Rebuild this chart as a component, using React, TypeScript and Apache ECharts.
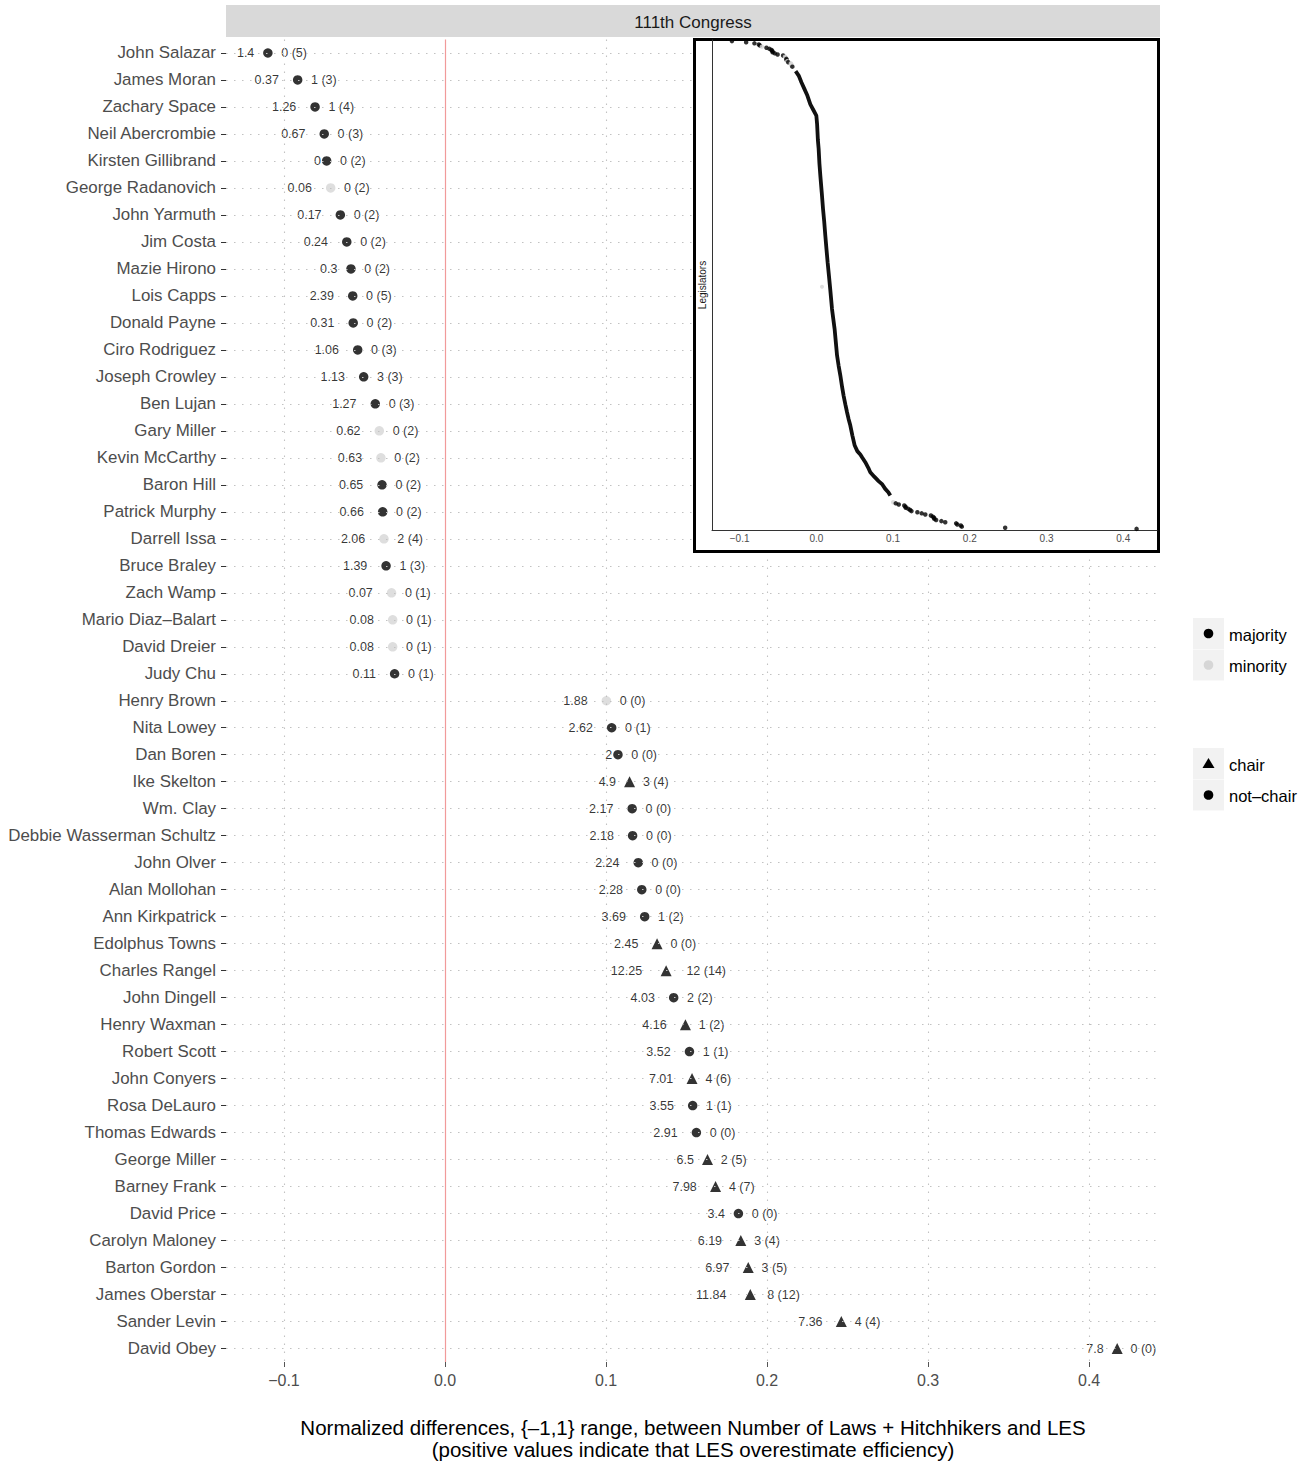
import React, { useEffect, useRef } from "react";
import * as echarts from "echarts";

const legislators = [
  "John Salazar", "James Moran", "Zachary Space", "Neil Abercrombie", "Kirsten Gillibrand",
  "George Radanovich", "John Yarmuth", "Jim Costa", "Mazie Hirono", "Lois Capps",
  "Donald Payne", "Ciro Rodriguez", "Joseph Crowley", "Ben Lujan", "Gary Miller",
  "Kevin McCarthy", "Baron Hill", "Patrick Murphy", "Darrell Issa", "Bruce Braley",
  "Zach Wamp", "Mario Diaz–Balart", "David Dreier", "Judy Chu", "Henry Brown",
  "Nita Lowey", "Dan Boren", "Ike Skelton", "Wm. Clay", "Debbie Wasserman Schultz",
  "John Olver", "Alan Mollohan", "Ann Kirkpatrick", "Edolphus Towns", "Charles Rangel",
  "John Dingell", "Henry Waxman", "Robert Scott", "John Conyers", "Rosa DeLauro",
  "Thomas Edwards", "George Miller", "Barney Frank", "David Price", "Carolyn Maloney",
  "Barton Gordon", "James Oberstar", "Sander Levin", "David Obey",
];

const normDiff = [
  -0.110, -0.0915, -0.0807, -0.075, -0.0735, -0.071, -0.065, -0.061, -0.0584, -0.0573,
  -0.057, -0.0542, -0.0505, -0.0433, -0.0408, -0.0398, -0.0391, -0.0387, -0.0379, -0.0366,
  -0.0332, -0.0325, -0.0325, -0.0313, 0.1002, 0.1035, 0.1074, 0.1146, 0.1162, 0.1165,
  0.120, 0.1222, 0.124, 0.1317, 0.1373, 0.142, 0.1493, 0.1518, 0.1534, 0.1538,
  0.1561, 0.163, 0.168, 0.1822, 0.1837, 0.1883, 0.1896, 0.2461, 0.4174,
];

const lesLabels = [
  "1.4", "0.37", "1.26", "0.67", "0", "0.06", "0.17", "0.24", "0.3", "2.39",
  "0.31", "1.06", "1.13", "1.27", "0.62", "0.63", "0.65", "0.66", "2.06", "1.39",
  "0.07", "0.08", "0.08", "0.11", "1.88", "2.62", "2", "4.9", "2.17", "2.18",
  "2.24", "2.28", "3.69", "2.45", "12.25", "4.03", "4.16", "3.52", "7.01", "3.55",
  "2.91", "6.5", "7.98", "3.4", "6.19", "6.97", "11.84", "7.36", "7.8",
];

const lawsLabels = [
  "0 (5)", "1 (3)", "1 (4)", "0 (3)", "0 (2)", "0 (2)", "0 (2)", "0 (2)", "0 (2)", "0 (5)",
  "0 (2)", "0 (3)", "3 (3)", "0 (3)", "0 (2)", "0 (2)", "0 (2)", "0 (2)", "2 (4)", "1 (3)",
  "0 (1)", "0 (1)", "0 (1)", "0 (1)", "0 (0)", "0 (1)", "0 (0)", "3 (4)", "0 (0)", "0 (0)",
  "0 (0)", "0 (0)", "1 (2)", "0 (0)", "12 (14)", "2 (2)", "1 (2)", "1 (1)", "4 (6)", "1 (1)",
  "0 (0)", "2 (5)", "4 (7)", "0 (0)", "3 (4)", "3 (5)", "8 (12)", "4 (4)", "0 (0)",
];

// 1 = majority, 0 = minority
const majority = [
  1, 1, 1, 1, 1, 0, 1, 1, 1, 1,
  1, 1, 1, 1, 0, 0, 1, 1, 0, 1,
  0, 0, 0, 1, 0, 1, 1, 1, 1, 1,
  1, 1, 1, 1, 1, 1, 1, 1, 1, 1,
  1, 1, 1, 1, 1, 1, 1, 1, 1,
];

// 1 = committee chair
const chair = [
  0, 0, 0, 0, 0, 0, 0, 0, 0, 0,
  0, 0, 0, 0, 0, 0, 0, 0, 0, 0,
  0, 0, 0, 0, 0, 0, 0, 1, 0, 0,
  0, 0, 0, 1, 1, 0, 1, 0, 1, 0,
  0, 1, 1, 0, 1, 1, 1, 1, 1,
];

const xTicks = [-0.1, 0.0, 0.1, 0.2, 0.3, 0.4];

// Inset: all legislators ranked; middle of the distribution [value, rank]
const insetTotal = 440;
const insetMiddle: [number, number][] = [
  [-0.027, 28], [-0.023, 32], [-0.0195, 38], [-0.0156, 44], [-0.0117, 50], [-0.0078, 58],
  [-0.0039, 63], [0.0, 68], [0.001, 76], [0.002, 90], [0.003, 98], [0.004, 111],
  [0.0052, 122], [0.007, 137], [0.0087, 152], [0.0102, 163], [0.0117, 176], [0.0133, 189],
  [0.0147, 200], [0.0164, 212], [0.0182, 225], [0.0204, 242], [0.0221, 251], [0.0238, 260],
  [0.0254, 272], [0.027, 284], [0.029, 293], [0.0313, 302], [0.0335, 312], [0.0355, 320],
  [0.0378, 328], [0.040, 335], [0.042, 341], [0.0443, 347], [0.047, 356], [0.050, 365],
  [0.0534, 370], [0.0573, 373], [0.060, 376], [0.0638, 380], [0.0677, 385], [0.0703, 389],
  [0.0755, 393], [0.0811, 397], [0.086, 400], [0.0898, 404], [0.0938, 407], [0.0964, 410],
];
const insetMinorityExtra: [number, number][] = [[0.0074, 222]];

const colorLegend = [
  { label: "majority", color: "#000000" },
  { label: "minority", color: "#d6d6d6" },
];
const shapeLegend = [
  { label: "chair", shape: "triangle" },
  { label: "not–chair", shape: "circle" },
];

const FONT = "'Liberation Sans', Arial, Helvetica, sans-serif";
const MAJ = "#000000";
const MIN = "#d6d6d6";
const RED = "#f19a9a";

function textW(s: string, fs: number) {
  let w = 0;
  for (const c of s) {
    if ("0123456789".includes(c)) w += 0.556;
    else if (c === "." || c === " ") w += 0.278;
    else if (c === "(" || c === ")") w += 0.333;
    else w += 0.556;
  }
  return w * fs;
}
const fmtTick = (v: number) => (v < -1e-9 ? "−" : "") + Math.abs(v).toFixed(1);

export default function App() {
  const ref = useRef<HTMLDivElement>(null);
  useEffect(() => {
    document.body.style.margin = "0";
    document.body.style.overflow = "hidden";
    const chart = echarts.init(ref.current!, null, { renderer: "svg" });
    const LFS = 12.5;

    const points = legislators.map((n, i) => ({
      value: [normDiff[i], n],
      symbol: chair[i] ? "triangle" : "circle",
      symbolSize: chair[i] ? 11 : 9.5,
      itemStyle: { color: majority[i] ? MAJ : MIN },
    }));
    const leftLabels = legislators.map((n, i) => ({
      value: [normDiff[i], n],
      label: { distance: 0.75 * textW(lesLabels[i], LFS) },
    }));
    const rightLabels = legislators.map((n, i) => ({
      value: [normDiff[i], n],
      label: { distance: 0.5 * textW(lawsLabels[i], LFS) },
    }));

    const insetPts = legislators.map((n, i) => ({
      value: [normDiff[i], i < 24 ? i + 1 : insetTotal - (legislators.length - 1 - i)],
      itemStyle: { color: majority[i] ? MAJ : MIN },
    }));

    const dotted = [1.5, 6.5];

    const graphic: any[] = [
      { type: "rect", shape: { x: 226, y: 5, width: 934, height: 32 }, style: { fill: "#d9d9d9" }, z: 5, silent: true },
      {
        type: "text", x: 693, y: 22, z: 6, silent: true,
        style: { text: "111th Congress", fill: "#1a1a1a", fontSize: 17, fontFamily: FONT, align: "center", verticalAlign: "middle", textAlign: "center", textVerticalAlign: "middle" },
      },
      { type: "rect", shape: { x: 694.5, y: 39.5, width: 464, height: 512 }, style: { fill: "#ffffff", stroke: "#000000", lineWidth: 3 }, z: 10, silent: true },
    ];
    colorLegend.forEach((it, k) => {
      const y0 = 618 + k * 31.5;
      graphic.push({ type: "rect", shape: { x: 1193, y: y0, width: 31, height: 31 }, style: { fill: "#f2f2f2" }, z: 5 });
      graphic.push({ type: "circle", shape: { cx: 1208.5, cy: y0 + 15.5, r: 4.8 }, style: { fill: it.color }, z: 6 });
      graphic.push({ type: "text", x: 1229, y: y0 + 16.5, z: 6, style: { text: it.label, fill: "#000", fontSize: 16.5, fontFamily: FONT, verticalAlign: "middle", textVerticalAlign: "middle" } });
    });
    shapeLegend.forEach((it, k) => {
      const y0 = 748 + k * 31.5;
      const cy = y0 + 15.5;
      graphic.push({ type: "rect", shape: { x: 1193, y: y0, width: 31, height: 31 }, style: { fill: "#f2f2f2" }, z: 5 });
      if (it.shape === "triangle") {
        graphic.push({ type: "polygon", shape: { points: [[1202.5, cy + 4.5], [1214.5, cy + 4.5], [1208.5, cy - 5.5]] }, style: { fill: "#000" }, z: 6 });
      } else {
        graphic.push({ type: "circle", shape: { cx: 1208.5, cy, r: 4.8 }, style: { fill: "#000" }, z: 6 });
      }
      graphic.push({ type: "text", x: 1229, y: cy + 1, z: 6, style: { text: it.label, fill: "#000", fontSize: 16.5, fontFamily: FONT, verticalAlign: "middle", textVerticalAlign: "middle" } });
    });

    const gridMarkLine = (data: any[], color: string, width: number, type: any) => ({
      silent: true, symbol: ["none", "none"], label: { show: false }, animation: false,
      emphasis: { disabled: true },
      lineStyle: { color, width, type, opacity: 1 },
      data,
    });

    const option: any = {
      animation: false,
      backgroundColor: "#ffffff",
      textStyle: { fontFamily: FONT },
      graphic,
      grid: [
        { left: 226, top: 39.5, width: 934, height: 1327, containLabel: false },
        { left: 712, top: 40, width: 445, height: 490, containLabel: false },
      ],
      xAxis: [
        {
          type: "value", gridIndex: 0, min: -0.136, max: 0.444,
          axisLine: { show: false, onZero: false },
          splitLine: { show: false },
          axisTick: { show: true, customValues: xTicks, length: 5, lineStyle: { color: "#555" } },
          axisLabel: { customValues: xTicks, formatter: fmtTick, fontSize: 16, color: "#4d4d4d", margin: 10, fontFamily: FONT },
          name: "Normalized differences, {–1,1} range, between Number of Laws + Hitchhikers and LES\n(positive values indicate that LES overestimate efficiency)",
          nameLocation: "middle",
          nameGap: 54,
          nameTextStyle: { fontSize: 20.5, color: "#000", lineHeight: 22.5, fontFamily: FONT },
        },
        {
          type: "value", gridIndex: 1, min: -0.136, max: 0.444, z: 11,
          axisLine: { show: true, onZero: false, lineStyle: { color: "#333", width: 1 } },
          splitLine: { show: false },
          axisTick: { show: false },
          axisLabel: { customValues: xTicks, formatter: fmtTick, fontSize: 10, color: "#4d4d4d", margin: 3, fontFamily: FONT },
        },
      ],
      yAxis: [
        {
          type: "category", gridIndex: 0, data: legislators, inverse: true,
          axisLine: { show: false, onZero: false },
          axisTick: { show: true, alignWithLabel: true, length: 5, lineStyle: { color: "#333" } },
          axisLabel: { fontSize: 16.9, color: "#4d4d4d", margin: 10, fontFamily: FONT, interval: 0 },
          splitLine: { show: false },
        },
        {
          type: "value", gridIndex: 1, min: 0, max: 441, inverse: true, z: 11,
          axisLine: { show: true, onZero: false, lineStyle: { color: "#333", width: 1 } },
          axisTick: { show: false },
          axisLabel: { show: false },
          splitLine: { show: false },
          name: "Legislators", nameLocation: "middle", nameGap: 5, nameRotate: 90,
          nameTextStyle: { fontSize: 10, color: "#1a1a1a", fontFamily: FONT },
        },
      ],
      series: [
        {
          type: "scatter", xAxisIndex: 0, yAxisIndex: 0, data: [], z: 1, silent: true,
          itemStyle: { color: "#c2c2c2" },
          markLine: gridMarkLine(
            [
              ...legislators.map((n) => ({ yAxis: n })),
              ...xTicks.filter((v) => Math.abs(v) > 1e-9).map((v) => ({ xAxis: v })),
            ],
            "#c2c2c2", 1.1, dotted,
          ),
        },
        {
          type: "scatter", xAxisIndex: 0, yAxisIndex: 0, data: [], z: 1, silent: true,
          itemStyle: { color: RED },
          markLine: gridMarkLine([{ xAxis: 0 }], RED, 1.2, "solid"),
        },
        {
          type: "scatter", xAxisIndex: 0, yAxisIndex: 0, data: points, z: 3, silent: true,
        },
        {
          type: "scatter", xAxisIndex: 0, yAxisIndex: 0, data: leftLabels, z: 4, silent: true,
          symbol: "circle", symbolSize: 1, itemStyle: { color: "rgba(0,0,0,0)" },
          label: {
            show: true, position: "left", fontSize: LFS, color: "#000", fontFamily: FONT,
            formatter: (p: any) => lesLabels[p.dataIndex],
          },
        },
        {
          type: "scatter", xAxisIndex: 0, yAxisIndex: 0, data: rightLabels, z: 4, silent: true,
          symbol: "circle", symbolSize: 1, itemStyle: { color: "rgba(0,0,0,0)" },
          label: {
            show: true, position: "right", fontSize: LFS, color: "#000", fontFamily: FONT,
            formatter: (p: any) => lawsLabels[p.dataIndex],
          },
        },
        {
          type: "scatter", xAxisIndex: 1, yAxisIndex: 1, data: [], z: 11, silent: true,
          itemStyle: { color: "#e3e3e3" },
          markLine: gridMarkLine(
            xTicks.filter((v) => Math.abs(v) > 1e-9).map((v) => ({ xAxis: v })),
            "#e3e3e3", 1, [2, 3],
          ),
        },
        {
          type: "scatter", xAxisIndex: 1, yAxisIndex: 1, data: [], z: 11, silent: true,
          itemStyle: { color: RED },
          markLine: gridMarkLine([{ xAxis: 0 }], RED, 1, "solid"),
        },
        {
          type: "line", xAxisIndex: 1, yAxisIndex: 1, data: insetMiddle, z: 12, silent: true,
          showSymbol: false, symbol: "none", lineStyle: { color: "#111", width: 3.8 },
        },
        {
          type: "scatter", xAxisIndex: 1, yAxisIndex: 1, data: insetMinorityExtra, z: 12, silent: true,
          symbolSize: 4, itemStyle: { color: MIN },
        },
        {
          type: "scatter", xAxisIndex: 1, yAxisIndex: 1, data: insetPts, z: 13, silent: true,
          symbolSize: 4.5,
        },
      ],
    };
    chart.setOption(option);
    return () => chart.dispose();
  }, []);
  return <div ref={ref} style={{ width: 1310, height: 1466 }} />;
}
